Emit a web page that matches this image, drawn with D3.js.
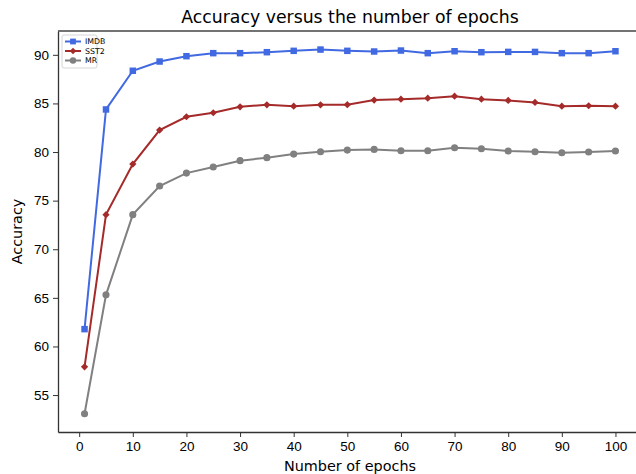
<!DOCTYPE html>
<html>
<head>
<meta charset="utf-8">
<script src="https://cdn.jsdelivr.net/npm/d3@7"></script>
<style>
  body { margin: 0; background: #fff; }
  svg { display: block; font-family: "DejaVu Sans", sans-serif; }
  .axis text { font-size: 13.5px; fill: #000; }
  .axis path, .axis line { stroke: #333; }
</style>
</head>
<body>
<script>
// Data
var epochs = [1, 5, 10, 15, 20, 25, 30, 35, 40, 45, 50, 55, 60, 65, 70, 75, 80, 85, 90, 95, 100];
var imdb = [61.78, 84.38, 88.36, 89.31, 89.86, 90.17, 90.17, 90.27, 90.41, 90.54, 90.41, 90.34, 90.44, 90.17, 90.37, 90.27, 90.3, 90.3, 90.17, 90.17, 90.37];
var sst2 = [57.91, 73.56, 78.76, 82.26, 83.63, 84.04, 84.65, 84.86, 84.72, 84.86, 84.87, 85.34, 85.44, 85.54, 85.75, 85.44, 85.31, 85.1, 84.72, 84.76, 84.72];
var mr = [53.08, 65.31, 73.56, 76.5, 77.83, 78.46, 79.11, 79.42, 79.79, 80.03, 80.2, 80.27, 80.13, 80.13, 80.44, 80.34, 80.1, 80.03, 79.93, 80.0, 80.1];
var xTicks = [0, 10, 20, 30, 40, 50, 60, 70, 80, 90, 100];
var yTicks = [55, 60, 65, 70, 75, 80, 85, 90];

var series = [
    {name: "IMDB", values: imdb, color: "#4169e1", symbol: d3.symbolSquare, size: 42, rot: 0},
    {name: "SST2", values: sst2, color: "#a52a2a", symbol: d3.symbolSquare, size: 26, rot: 45},
    {name: "MR", values: mr, color: "#808080", symbol: d3.symbolCircle, size: 40, rot: 0}
];

// SVG variables
var W = 636, H = 474;
var plot = {left: 58, top: 31, right: 642, bottom: 432};

var svg = d3.select("body").append("svg")
    .attr("width", W)
    .attr("height", H);

// Scales
var xScale = d3.scaleLinear().domain([-3.95, 104.95]).range([plot.left, plot.right]);
var yScale = d3.scaleLinear().domain([51.2, 92.45]).range([plot.bottom, plot.top]);

// Axes
svg.append("g")
    .attr("class", "axis")
    .attr("transform", "translate(0," + plot.bottom + ")")
    .call(d3.axisBottom(xScale).tickValues(xTicks).tickSize(5).tickPadding(4).tickSizeOuter(0))
    .call(function(g) { g.select(".domain").attr("stroke-width", 1.3); });

svg.append("g")
    .attr("class", "axis")
    .attr("transform", "translate(" + plot.left + ",0)")
    .call(d3.axisLeft(yScale).tickValues(yTicks).tickSize(5).tickPadding(4).tickSizeOuter(0))
    .call(function(g) { g.select(".domain").attr("stroke-width", 1.3); });

// top spine
svg.append("line")
    .attr("x1", plot.left).attr("x2", plot.right)
    .attr("y1", plot.top).attr("y2", plot.top)
    .attr("stroke", "#444").attr("stroke-width", 1.3);

// Lines
var line = d3.line()
    .x(function(d, i) { return xScale(epochs[i]); })
    .y(function(d) { return yScale(d); });

series.forEach(function(s) {
    svg.append("path")
        .datum(s.values)
        .attr("fill", "none")
        .attr("stroke", s.color)
        .attr("stroke-width", 2)
        .attr("d", line);

    svg.selectAll(null)
        .data(s.values)
        .enter()
        .append("path")
        .attr("transform", function(d, i) {
            return "translate(" + xScale(epochs[i]) + "," + yScale(d) + ") rotate(" + s.rot + ")";
        })
        .attr("d", d3.symbol().type(s.symbol).size(s.size))
        .attr("fill", s.color);
});

// Title and labels
svg.append("text")
    .attr("x", (plot.left + plot.right) / 2)
    .attr("y", 23)
    .attr("text-anchor", "middle")
    .style("font-size", "17.3px")
    .text("Accuracy versus the number of epochs");

svg.append("text")
    .attr("x", (plot.left + plot.right) / 2)
    .attr("y", 471)
    .attr("text-anchor", "middle")
    .style("font-size", "14.4px")
    .text("Number of epochs");

svg.append("text")
    .attr("transform", "translate(22," + ((plot.top + plot.bottom) / 2) + ") rotate(-90)")
    .attr("text-anchor", "middle")
    .style("font-size", "14.4px")
    .text("Accuracy");

// Legend
var legend = svg.append("g").attr("transform", "translate(62,35)");
legend.append("rect")
    .attr("width", 35).attr("height", 33)
    .attr("rx", 2)
    .attr("fill", "#fff").attr("fill-opacity", 0.8)
    .attr("stroke", "#ccc").attr("stroke-width", 0.8);

series.forEach(function(s, i) {
    var gy = 6.5 + i * 9.5;
    legend.append("line")
        .attr("x1", 3).attr("x2", 19)
        .attr("y1", gy).attr("y2", gy)
        .attr("stroke", s.color).attr("stroke-width", 2);
    legend.append("path")
        .attr("transform", "translate(11," + gy + ") rotate(" + s.rot + ")")
        .attr("d", d3.symbol().type(s.symbol).size(s.size * 0.8))
        .attr("fill", s.color);
    legend.append("text")
        .attr("x", 23).attr("y", gy + 2.8)
        .style("font-size", "7.8px")
        .text(s.name);
});
</script>
</body>
</html>
